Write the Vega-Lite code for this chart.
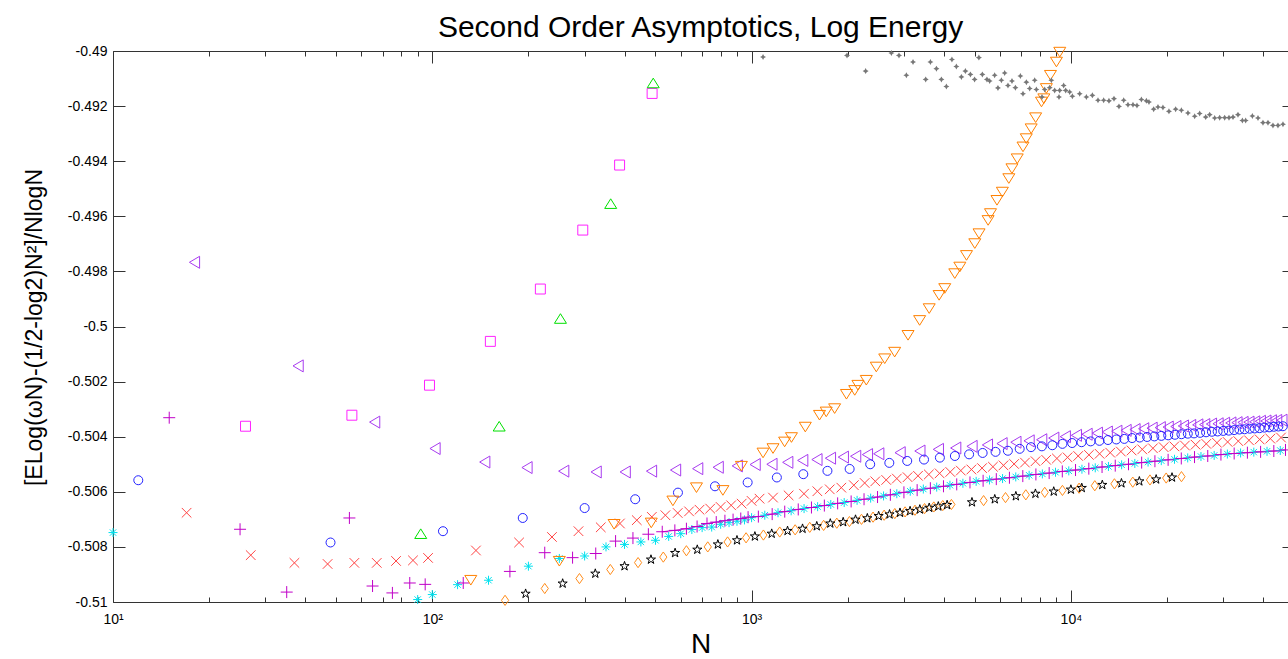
{
  "$schema": "https://vega.github.io/schema/vega-lite/v6.json",
  "width": 1175,
  "height": 551,
  "autosize": "none",
  "padding": {"left": 113, "top": 51, "right": 0, "bottom": 57},
  "background": "white",
  "title": {"text": "Second Order Asymptotics, Log Energy", "fontSize": 30, "font": "Liberation Sans", "fontWeight": "normal", "color": "#000", "baseline": "alphabetic", "offset": 14, "dy": 37, "anchor": "middle"},
  "config": {"view": {"stroke": null}, "axis": {"grid": false, "domainColor": "#333", "tickColor": "#333", "tickWidth": 1, "domainWidth": 1, "labelFont": "Liberation Sans", "labelFontSize": 14, "labelColor": "#000", "titleFont": "Liberation Sans", "titleFontWeight": "normal", "titleColor": "#000"}},
  "datasets": {
    "pts": [
      {"s":"vl","n":18,"v":-0.49767},{"s":"vl","n":38,"v":-0.50143},{"s":"vl","n":66,"v":-0.50347},{"s":"vl","n":102,"v":-0.50443},{"s":"vl","n":146,"v":-0.50492},{"s":"vl","n":198,"v":-0.50512},{"s":"vl","n":258,"v":-0.50525},{"s":"vl","n":326,"v":-0.50528},{"s":"vl","n":402,"v":-0.50528},{"s":"vl","n":486,"v":-0.50525},{"s":"vl","n":578,"v":-0.50521},{"s":"vl","n":678,"v":-0.50516},{"s":"vl","n":786,"v":-0.50511},{"s":"vl","n":902,"v":-0.50506},{"s":"vl","n":1026,"v":-0.50501},{"s":"vl","n":1158,"v":-0.505},{"s":"vl","n":1298,"v":-0.50493},{"s":"vl","n":1446,"v":-0.50486},{"s":"vl","n":1602,"v":-0.50483},{"s":"vl","n":1766,"v":-0.50478},{"s":"vl","n":1938,"v":-0.50474},{"s":"vl","n":2118,"v":-0.50471},{"s":"vl","n":2306,"v":-0.50465},
      {"s":"vl","n":2502,"v":-0.50462},{"s":"vl","n":2918,"v":-0.50458},{"s":"vl","n":3366,"v":-0.50452},{"s":"vl","n":3846,"v":-0.50446},{"s":"vl","n":4358,"v":-0.50441},{"s":"vl","n":4902,"v":-0.50435},{"s":"vl","n":5478,"v":-0.5043},{"s":"vl","n":6086,"v":-0.50425},{"s":"vl","n":6726,"v":-0.5042},{"s":"vl","n":7398,"v":-0.50415},{"s":"vl","n":8102,"v":-0.50411},{"s":"vl","n":8838,"v":-0.50405},{"s":"vl","n":9606,"v":-0.504},{"s":"vl","n":10406,"v":-0.50395},{"s":"vl","n":11238,"v":-0.50391},{"s":"vl","n":12102,"v":-0.50387},{"s":"vl","n":12998,"v":-0.50383},{"s":"vl","n":13926,"v":-0.5038},{"s":"vl","n":14886,"v":-0.50377},{"s":"vl","n":15878,"v":-0.50374},{"s":"vl","n":16902,"v":-0.50371},{"s":"vl","n":17958,"v":-0.50369},{"s":"vl","n":19046,"v":-0.50367},{"s":"vl","n":20166,"v":-0.50365},{"s":"vl","n":21318,"v":-0.50363},{"s":"vl","n":22502,"v":-0.50361},{"s":"vl","n":23718,"v":-0.50359},{"s":"vl","n":24966,"v":-0.50357},{"s":"vl","n":26246,"v":-0.50356},{"s":"vl","n":27558,"v":-0.50354},{"s":"vl","n":28902,"v":-0.50353},{"s":"vl","n":30278,"v":-0.50351},{"s":"vl","n":31686,"v":-0.5035},{"s":"vl","n":33126,"v":-0.50349},{"s":"vl","n":34598,"v":-0.50348},{"s":"vl","n":36102,"v":-0.50347},{"s":"vl","n":37638,"v":-0.50346},{"s":"vl","n":39206,"v":-0.50344},{"s":"vl","n":40806,"v":-0.50343},{"s":"vl","n":42438,"v":-0.50342},{"s":"vl","n":44102,"v":-0.50341},{"s":"vl","n":45798,"v":-0.5034},
      {"s":"b","n":12,"v":-0.50558},{"s":"b","n":48,"v":-0.50784},{"s":"b","n":108,"v":-0.50743},{"s":"b","n":192,"v":-0.50695},{"s":"b","n":300,"v":-0.50659},{"s":"b","n":432,"v":-0.50627},{"s":"b","n":588,"v":-0.50603},{"s":"b","n":768,"v":-0.5058},{"s":"b","n":972,"v":-0.50566},{"s":"b","n":1200,"v":-0.50548},{"s":"b","n":1452,"v":-0.50536},{"s":"b","n":1728,"v":-0.50524},{"s":"b","n":2028,"v":-0.50517},{"s":"b","n":2352,"v":-0.505},{"s":"b","n":2700,"v":-0.50495},{"s":"b","n":3072,"v":-0.50488},{"s":"b","n":3468,"v":-0.50483},{"s":"b","n":3888,"v":-0.50476},{"s":"b","n":4332,"v":-0.5047},{"s":"b","n":4800,"v":-0.50464},{"s":"b","n":5292,"v":-0.50459},{"s":"b","n":5808,"v":-0.50455},{"s":"b","n":6348,"v":-0.50451},{"s":"b","n":6912,"v":-0.50444},{"s":"b","n":7500,"v":-0.50438},{"s":"b","n":8112,"v":-0.50435},{"s":"b","n":8748,"v":-0.50431},{"s":"b","n":9408,"v":-0.50426},{"s":"b","n":10092,"v":-0.50423},{"s":"b","n":10800,"v":-0.5042},{"s":"b","n":11532,"v":-0.50417},{"s":"b","n":12288,"v":-0.50415},{"s":"b","n":13068,"v":-0.50412},{"s":"b","n":13872,"v":-0.5041},{"s":"b","n":14700,"v":-0.50408},{"s":"b","n":15552,"v":-0.50405},{"s":"b","n":16428,"v":-0.50403},{"s":"b","n":17328,"v":-0.50401},{"s":"b","n":18252,"v":-0.50399},{"s":"b","n":19200,"v":-0.50397},{"s":"b","n":20172,"v":-0.50395},{"s":"b","n":21168,"v":-0.50393},{"s":"b","n":22188,"v":-0.50391},{"s":"b","n":23232,"v":-0.50389},{"s":"b","n":24300,"v":-0.50388},{"s":"b","n":25392,"v":-0.50386},{"s":"b","n":26508,"v":-0.50384},{"s":"b","n":27648,"v":-0.50382},{"s":"b","n":28812,"v":-0.50381},{"s":"b","n":30000,"v":-0.50379},{"s":"b","n":31212,"v":-0.50378},{"s":"b","n":32448,"v":-0.50376},{"s":"b","n":33708,"v":-0.50374},{"s":"b","n":34992,"v":-0.50373},{"s":"b","n":36300,"v":-0.50371},{"s":"b","n":37632,"v":-0.5037},{"s":"b","n":38988,"v":-0.50369},{"s":"b","n":40368,"v":-0.50367},{"s":"b","n":41772,"v":-0.50366},{"s":"b","n":43200,"v":-0.50364},{"s":"b","n":44652,"v":-0.50363},{"s":"b","n":46128,"v":-0.50362},
      {"s":"r","n":17,"v":-0.50676},{"s":"r","n":27,"v":-0.5083},{"s":"r","n":37,"v":-0.50858},{"s":"r","n":47,"v":-0.50862},{"s":"r","n":57,"v":-0.50858},{"s":"r","n":67,"v":-0.50858},{"s":"r","n":77,"v":-0.50851},{"s":"r","n":87,"v":-0.50849},{"s":"r","n":97,"v":-0.5084},{"s":"r","n":137,"v":-0.50813},{"s":"r","n":187,"v":-0.50784},{"s":"r","n":237,"v":-0.50764},{"s":"r","n":287,"v":-0.50743},{"s":"r","n":337,"v":-0.50729},{"s":"r","n":387,"v":-0.50715},{"s":"r","n":437,"v":-0.50703},{"s":"r","n":487,"v":-0.50691},{"s":"r","n":537,"v":-0.50685},{"s":"r","n":587,"v":-0.50677},{"s":"r","n":637,"v":-0.50671},{"s":"r","n":687,"v":-0.50665},{"s":"r","n":742,"v":-0.50661},{"s":"r","n":800,"v":-0.50655},{"s":"r","n":863,"v":-0.50649},{"s":"r","n":931,"v":-0.50643},{"s":"r","n":1000,"v":-0.50633},{"s":"r","n":1059,"v":-0.50625},{"s":"r","n":1167,"v":-0.50621},{"s":"r","n":1306,"v":-0.50613},{"s":"r","n":1459,"v":-0.50607},{"s":"r","n":1607,"v":-0.50598},{"s":"r","n":1757,"v":-0.50591},{"s":"r","n":1910,"v":-0.50585},{"s":"r","n":2090,"v":-0.50576},{"s":"r","n":2260,"v":-0.50568},{"s":"r","n":2440,"v":-0.50562},{"s":"r","n":2640,"v":-0.50557},{"s":"r","n":2850,"v":-0.50552},{"s":"r","n":3080,"v":-0.50547},{"s":"r","n":3320,"v":-0.50542},{"s":"r","n":3590,"v":-0.50537},{"s":"r","n":3880,"v":-0.50533},{"s":"r","n":4190,"v":-0.50528},{"s":"r","n":4520,"v":-0.50523},{"s":"r","n":4880,"v":-0.50519},{"s":"r","n":5270,"v":-0.50514},{"s":"r","n":5700,"v":-0.50509},{"s":"r","n":6150,"v":-0.50504},{"s":"r","n":6640,"v":-0.50499},{"s":"r","n":7180,"v":-0.50494},{"s":"r","n":7750,"v":-0.50489},{"s":"r","n":8370,"v":-0.50484},{"s":"r","n":9040,"v":-0.50479},{"s":"r","n":9760,"v":-0.50475},{"s":"r","n":10540,"v":-0.5047},{"s":"r","n":11390,"v":-0.50466},{"s":"r","n":12300,"v":-0.50462},{"s":"r","n":13280,"v":-0.50458},{"s":"r","n":14340,"v":-0.50454},{"s":"r","n":15490,"v":-0.5045},{"s":"r","n":16730,"v":-0.50446},{"s":"r","n":18070,"v":-0.50442},{"s":"r","n":19520,"v":-0.50438},{"s":"r","n":21080,"v":-0.50435},{"s":"r","n":22760,"v":-0.50432},{"s":"r","n":24580,"v":-0.50429},{"s":"r","n":26550,"v":-0.50426},{"s":"r","n":28670,"v":-0.50422},{"s":"r","n":30970,"v":-0.50419},{"s":"r","n":33440,"v":-0.50416},{"s":"r","n":36120,"v":-0.50413},{"s":"r","n":39010,"v":-0.5041},{"s":"r","n":42130,"v":-0.50407},{"s":"r","n":45500,"v":-0.50403},
      {"s":"c","n":10,"v":-0.50748},{"s":"c","n":90,"v":-0.50991},{"s":"c","n":100,"v":-0.50973},{"s":"c","n":120,"v":-0.50937},{"s":"c","n":150,"v":-0.50921},{"s":"c","n":200,"v":-0.5087},{"s":"c","n":250,"v":-0.50842},{"s":"c","n":300,"v":-0.50833},{"s":"c","n":350,"v":-0.508},{"s":"c","n":400,"v":-0.50791},{"s":"c","n":450,"v":-0.50782},{"s":"c","n":500,"v":-0.50776},{"s":"c","n":550,"v":-0.50762},{"s":"c","n":600,"v":-0.50752},{"s":"c","n":650,"v":-0.50737},{"s":"c","n":700,"v":-0.5073},{"s":"c","n":750,"v":-0.50728},{"s":"c","n":800,"v":-0.50718},{"s":"c","n":850,"v":-0.50712},{"s":"c","n":900,"v":-0.50707},{"s":"c","n":950,"v":-0.50702},{"s":"c","n":1000,"v":-0.50694},{"s":"c","n":1100,"v":-0.50685},{"s":"c","n":1210,"v":-0.50676},{"s":"c","n":1330,"v":-0.50669},{"s":"c","n":1460,"v":-0.50661},{"s":"c","n":1610,"v":-0.50654},{"s":"c","n":1770,"v":-0.50646},{"s":"c","n":1950,"v":-0.50639},{"s":"c","n":2140,"v":-0.50631},{"s":"c","n":2360,"v":-0.50623},{"s":"c","n":2590,"v":-0.50615},{"s":"c","n":2850,"v":-0.50607},{"s":"c","n":3140,"v":-0.50598},{"s":"c","n":3450,"v":-0.5059},{"s":"c","n":3800,"v":-0.50583},{"s":"c","n":4180,"v":-0.50576},{"s":"c","n":4590,"v":-0.50569},{"s":"c","n":5050,"v":-0.50562},{"s":"c","n":5560,"v":-0.50557},{"s":"c","n":6110,"v":-0.50552},{"s":"c","n":6720,"v":-0.50546},{"s":"c","n":7400,"v":-0.5054},{"s":"c","n":8140,"v":-0.50535},{"s":"c","n":8950,"v":-0.50529},{"s":"c","n":9850,"v":-0.50524},{"s":"c","n":10830,"v":-0.50518},{"s":"c","n":11920,"v":-0.50513},{"s":"c","n":13110,"v":-0.50508},{"s":"c","n":14420,"v":-0.50502},{"s":"c","n":15860,"v":-0.50497},{"s":"c","n":17450,"v":-0.50492},{"s":"c","n":19190,"v":-0.50487},{"s":"c","n":21110,"v":-0.50482},{"s":"c","n":23220,"v":-0.50477},{"s":"c","n":25550,"v":-0.50472},{"s":"c","n":28100,"v":-0.50468},{"s":"c","n":30910,"v":-0.50463},{"s":"c","n":34000,"v":-0.50459},{"s":"c","n":37400,"v":-0.50456},{"s":"c","n":41140,"v":-0.50453},{"s":"c","n":45260,"v":-0.5045},
      {"s":"p","n":15,"v":-0.50331},{"s":"p","n":25,"v":-0.50736},{"s":"p","n":35,"v":-0.50964},{"s":"p","n":55,"v":-0.50695},{"s":"p","n":65,"v":-0.50942},{"s":"p","n":75,"v":-0.50967},{"s":"p","n":85,"v":-0.50931},{"s":"p","n":95,"v":-0.50936},{"s":"p","n":125,"v":-0.50931},{"s":"p","n":175,"v":-0.50889},{"s":"p","n":225,"v":-0.50821},{"s":"p","n":275,"v":-0.50839},{"s":"p","n":325,"v":-0.50824},{"s":"p","n":375,"v":-0.50779},{"s":"p","n":425,"v":-0.50768},{"s":"p","n":475,"v":-0.50754},{"s":"p","n":525,"v":-0.50745},{"s":"p","n":575,"v":-0.5074},{"s":"p","n":625,"v":-0.50734},{"s":"p","n":675,"v":-0.50726},{"s":"p","n":725,"v":-0.50715},{"s":"p","n":775,"v":-0.5071},{"s":"p","n":825,"v":-0.50705},{"s":"p","n":875,"v":-0.50701},{"s":"p","n":925,"v":-0.50697},{"s":"p","n":975,"v":-0.50692},{"s":"p","n":1050,"v":-0.5069},{"s":"p","n":1160,"v":-0.50681},{"s":"p","n":1270,"v":-0.50672},{"s":"p","n":1400,"v":-0.50664},{"s":"p","n":1540,"v":-0.50657},{"s":"p","n":1690,"v":-0.5065},{"s":"p","n":1860,"v":-0.50642},{"s":"p","n":2050,"v":-0.50635},{"s":"p","n":2250,"v":-0.50627},{"s":"p","n":2480,"v":-0.50619},{"s":"p","n":2720,"v":-0.50611},{"s":"p","n":3000,"v":-0.50602},{"s":"p","n":3300,"v":-0.50594},{"s":"p","n":3630,"v":-0.50587},{"s":"p","n":3990,"v":-0.5058},{"s":"p","n":4390,"v":-0.50573},{"s":"p","n":4830,"v":-0.50566},{"s":"p","n":5310,"v":-0.5056},{"s":"p","n":5840,"v":-0.50554},{"s":"p","n":6420,"v":-0.50549},{"s":"p","n":7070,"v":-0.50543},{"s":"p","n":7770,"v":-0.50537},{"s":"p","n":8550,"v":-0.50532},{"s":"p","n":9400,"v":-0.50526},{"s":"p","n":10340,"v":-0.50521},{"s":"p","n":11380,"v":-0.50516},{"s":"p","n":12520,"v":-0.5051},{"s":"p","n":13770,"v":-0.50505},{"s":"p","n":15150,"v":-0.505},{"s":"p","n":16660,"v":-0.50494},{"s":"p","n":18330,"v":-0.50489},{"s":"p","n":20160,"v":-0.50484},{"s":"p","n":22170,"v":-0.50479},{"s":"p","n":24390,"v":-0.50474},{"s":"p","n":26830,"v":-0.5047},{"s":"p","n":29510,"v":-0.50465},{"s":"p","n":32460,"v":-0.50461},{"s":"p","n":35710,"v":-0.50458},{"s":"p","n":39280,"v":-0.50455},{"s":"p","n":43210,"v":-0.50452},{"s":"p","n":47000,"v":-0.50448},
      {"s":"sq","n":26,"v":-0.50362},{"s":"sq","n":56,"v":-0.50322},{"s":"sq","n":98,"v":-0.50213},{"s":"sq","n":152,"v":-0.50054},{"s":"sq","n":218,"v":-0.49864},{"s":"sq","n":296,"v":-0.4965},{"s":"sq","n":386,"v":-0.49414},{"s":"sq","n":488,"v":-0.49154},
      {"s":"g","n":92,"v":-0.50752},{"s":"g","n":162,"v":-0.50362},{"s":"g","n":252,"v":-0.49971},{"s":"g","n":362,"v":-0.49554},{"s":"g","n":492,"v":-0.49116},
      {"s":"ov","n":132,"v":-0.50921},{"s":"ov","n":250,"v":-0.50852},{"s":"ov","n":371,"v":-0.50718},{"s":"ov","n":485,"v":-0.50713},{"s":"ov","n":567,"v":-0.50633},{"s":"ov","n":672,"v":-0.50585},{"s":"ov","n":813,"v":-0.50595},{"s":"ov","n":929,"v":-0.50507},{"s":"ov","n":1086,"v":-0.50459},{"s":"ov","n":1167,"v":-0.50443},{"s":"ov","n":1269,"v":-0.50419},{"s":"ov","n":1333,"v":-0.50403},{"s":"ov","n":1473,"v":-0.50365},{"s":"ov","n":1632,"v":-0.50322},{"s":"ov","n":1713,"v":-0.5031},{"s":"ov","n":1820,"v":-0.50298},{"s":"ov","n":1982,"v":-0.50246},{"s":"ov","n":2104,"v":-0.50232},{"s":"ov","n":2153,"v":-0.50213},{"s":"ov","n":2287,"v":-0.50195},{"s":"ov","n":2458,"v":-0.50147},{"s":"ov","n":2612,"v":-0.50117},{"s":"ov","n":2806,"v":-0.50093},{"s":"ov","n":3090,"v":-0.50032},{"s":"ov","n":3360,"v":-0.49978},{"s":"ov","n":3600,"v":-0.49935},{"s":"ov","n":3867,"v":-0.49887},{"s":"ov","n":4027,"v":-0.49862},{"s":"ov","n":4329,"v":-0.49808},{"s":"ov","n":4490,"v":-0.49784},{"s":"ov","n":4711,"v":-0.49742},{"s":"ov","n":5001,"v":-0.49699},{"s":"ov","n":5157,"v":-0.49663},{"s":"ov","n":5505,"v":-0.49615},{"s":"ov","n":5600,"v":-0.4959},{"s":"ov","n":5869,"v":-0.49542},{"s":"ov","n":6101,"v":-0.49512},{"s":"ov","n":6392,"v":-0.49463},{"s":"ov","n":6537,"v":-0.49427},{"s":"ov","n":6791,"v":-0.49391},{"s":"ov","n":7080,"v":-0.49348},{"s":"ov","n":7250,"v":-0.49318},{"s":"ov","n":7510,"v":-0.49282},{"s":"ov","n":7756,"v":-0.49242},{"s":"ov","n":8090,"v":-0.49185},{"s":"ov","n":8229,"v":-0.49173},{"s":"ov","n":8380,"v":-0.49136},{"s":"ov","n":8630,"v":-0.49088},{"s":"ov","n":9010,"v":-0.4904},{"s":"ov","n":9230,"v":-0.49004},
      {"s":"od","n":169,"v":-0.50994},{"s":"od","n":225,"v":-0.50951},{"s":"od","n":289,"v":-0.50915},{"s":"od","n":361,"v":-0.50882},{"s":"od","n":441,"v":-0.50857},{"s":"od","n":529,"v":-0.50837},{"s":"od","n":625,"v":-0.50814},{"s":"od","n":729,"v":-0.508},{"s":"od","n":841,"v":-0.50782},{"s":"od","n":961,"v":-0.50767},{"s":"od","n":1089,"v":-0.50757},{"s":"od","n":1225,"v":-0.50746},{"s":"od","n":1369,"v":-0.50738},{"s":"od","n":1521,"v":-0.50729},{"s":"od","n":1681,"v":-0.50722},{"s":"od","n":1849,"v":-0.50714},{"s":"od","n":2025,"v":-0.50708},{"s":"od","n":2209,"v":-0.507},{"s":"od","n":2401,"v":-0.50692},{"s":"od","n":2601,"v":-0.50685},{"s":"od","n":2809,"v":-0.50679},{"s":"od","n":3025,"v":-0.50673},{"s":"od","n":3249,"v":-0.50667},{"s":"od","n":3481,"v":-0.50661},{"s":"od","n":3721,"v":-0.50655},{"s":"od","n":3969,"v":-0.5065},{"s":"od","n":4225,"v":-0.50646},{"s":"od","n":5329,"v":-0.50632},{"s":"od","n":6241,"v":-0.50621},{"s":"od","n":7225,"v":-0.50611},{"s":"od","n":8281,"v":-0.50602},{"s":"od","n":9409,"v":-0.50595},{"s":"od","n":10609,"v":-0.50587},{"s":"od","n":11881,"v":-0.50578},{"s":"od","n":13689,"v":-0.50571},{"s":"od","n":15625,"v":-0.50565},{"s":"od","n":17689,"v":-0.50557},{"s":"od","n":19881,"v":-0.5055},{"s":"od","n":22201,"v":-0.50545},
      {"s":"k","n":196,"v":-0.5097},{"s":"k","n":256,"v":-0.50933},{"s":"k","n":324,"v":-0.50897},{"s":"k","n":400,"v":-0.5087},{"s":"k","n":484,"v":-0.50846},{"s":"k","n":576,"v":-0.50822},{"s":"k","n":676,"v":-0.5081},{"s":"k","n":784,"v":-0.50791},{"s":"k","n":900,"v":-0.50776},{"s":"k","n":1024,"v":-0.50762},{"s":"k","n":1156,"v":-0.50752},{"s":"k","n":1296,"v":-0.50742},{"s":"k","n":1444,"v":-0.50734},{"s":"k","n":1600,"v":-0.50725},{"s":"k","n":1764,"v":-0.50715},{"s":"k","n":1936,"v":-0.5071},{"s":"k","n":2116,"v":-0.50701},{"s":"k","n":2304,"v":-0.50696},{"s":"k","n":2500,"v":-0.50688},{"s":"k","n":2704,"v":-0.50682},{"s":"k","n":2916,"v":-0.50676},{"s":"k","n":3136,"v":-0.5067},{"s":"k","n":3364,"v":-0.50664},{"s":"k","n":3600,"v":-0.50658},{"s":"k","n":3844,"v":-0.50653},{"s":"k","n":4096,"v":-0.50648},{"s":"k","n":4900,"v":-0.50638},{"s":"k","n":5776,"v":-0.50627},{"s":"k","n":6724,"v":-0.50616},{"s":"k","n":7744,"v":-0.50607},{"s":"k","n":8836,"v":-0.50599},{"s":"k","n":10000,"v":-0.50592},{"s":"k","n":10816,"v":-0.50586},{"s":"k","n":12544,"v":-0.50575},{"s":"k","n":14400,"v":-0.50569},{"s":"k","n":16384,"v":-0.50562},{"s":"k","n":18496,"v":-0.50555},{"s":"k","n":20736,"v":-0.50548}
    ],
    "gray": [
      {"n":1086,"v":-0.49022},{"n":1990,"v":-0.49016},{"n":2276,"v":-0.49073},{"n":2740,"v":-0.49007},{"n":2895,"v":-0.49016},{"n":3053,"v":-0.49088},{"n":3203,"v":-0.4904},{"n":3510,"v":-0.49103},{"n":3631,"v":-0.4904},{"n":3792,"v":-0.49064},{"n":3930,"v":-0.49103},{"n":4074,"v":-0.49129},{"n":4241,"v":-0.49031},{"n":4378,"v":-0.49056},{"n":4540,"v":-0.49094},{"n":4673,"v":-0.49073},{"n":4845,"v":-0.49085},{"n":4994,"v":-0.49103},{"n":5151,"v":-0.49024},{"n":5281,"v":-0.49085},{"n":5459,"v":-0.49103},{"n":5567,"v":-0.49109},{"n":5771,"v":-0.49088},{"n":5910,"v":-0.49134},{"n":6058,"v":-0.49106},{"n":6203,"v":-0.4908},{"n":6353,"v":-0.49125},{"n":6539,"v":-0.49109},{"n":6702,"v":-0.49133},{"n":6947,"v":-0.49091},{"n":7079,"v":-0.49155},{"n":7254,"v":-0.49113},{"n":7430,"v":-0.49136},{"n":7703,"v":-0.49106},{"n":7797,"v":-0.4914},{"n":8119,"v":-0.49167},{"n":8279,"v":-0.4914},{"n":8582,"v":-0.49133},{"n":8687,"v":-0.49106},{"n":8897,"v":-0.49143},{"n":9178,"v":-0.49167},{"n":9224,"v":-0.49143},{"n":9493,"v":-0.49125},{"n":9632,"v":-0.49143},{"n":9913,"v":-0.49149},{"n":10108,"v":-0.49164},{"n":10656,"v":-0.49155},{"n":11181,"v":-0.49167},{"n":11676,"v":-0.49161},{"n":12159,"v":-0.49179},{"n":12667,"v":-0.49179},{"n":13160,"v":-0.49181},{"n":13646,"v":-0.49173},{"n":14145,"v":-0.49201},{"n":14635,"v":-0.49179},{"n":15094,"v":-0.49195},{"n":15649,"v":-0.49195},{"n":16106,"v":-0.49198},{"n":16626,"v":-0.49176},{"n":17234,"v":-0.49181},{"n":17562,"v":-0.49185},{"n":18167,"v":-0.49211},{"n":18740,"v":-0.49203},{"n":19424,"v":-0.49205},{"n":20283,"v":-0.49219},{"n":21287,"v":-0.49211},{"n":22183,"v":-0.49215},{"n":23262,"v":-0.49225},{"n":24418,"v":-0.49237},{"n":25315,"v":-0.49227},{"n":26435,"v":-0.4924},{"n":27207,"v":-0.49231},{"n":28208,"v":-0.49243},{"n":29242,"v":-0.49242},{"n":30317,"v":-0.49242},{"n":31274,"v":-0.49242},{"n":32190,"v":-0.4924},{"n":33368,"v":-0.49231},{"n":34445,"v":-0.49252},{"n":35270,"v":-0.49252},{"n":37017,"v":-0.49236},{"n":38548,"v":-0.49243},{"n":39958,"v":-0.4926},{"n":41428,"v":-0.4926},{"n":42942,"v":-0.4927},{"n":44522,"v":-0.4927},{"n":46156,"v":-0.49266}
    ]
  },
  "layer": [
    {
      "mark": {"type": "rule", "color": "#000", "strokeWidth": 1},
      "encoding": {"y": {"datum": -0.5, "type": "quantitative", "scale": {"domain": [-0.51, -0.49], "nice": false, "zero": false}, "axis": null}}
    },
    {
      "data": {"name": "pts"},
      "transform": [{"filter": "datum.s == 'p' && datum.n >= 500"}],
      "mark": {"type": "line", "color": "#c000c8", "strokeWidth": 1},
      "encoding": {
        "x": {"field": "n", "type": "quantitative", "scale": {"type": "log", "domain": [10, 47860], "nice": false}, "axis": null},
        "y": {"field": "v", "type": "quantitative", "scale": {"domain": [-0.51, -0.49], "nice": false, "zero": false}, "axis": null}
      }
    },
    {
      "data": {"name": "pts"},
      "mark": {"type": "point", "filled": false, "strokeWidth": 1, "size": 144, "opacity": 1},
      "encoding": {
        "x": {"field": "n", "type": "quantitative", "scale": {"type": "log", "domain": [10, 47860], "nice": false},
          "axis": {"orient": "bottom", "values": [10,20,30,40,50,60,70,80,90,100,200,300,400,500,600,700,800,900,1000,2000,3000,4000,5000,6000,7000,8000,9000,10000,20000,30000,40000],
            "labelExpr": "datum.value == 10 ? '10¹' : datum.value == 100 ? '10²' : datum.value == 1000 ? '10³' : datum.value == 10000 ? '10⁴' : ''",
            "tickSize": {"condition": {"test": "datum.value == 10 || datum.value == 100 || datum.value == 1000 || datum.value == 10000", "value": -12}, "value": -5},
            "labelPadding": 22, "labelBaseline": "top", "labelFlush": false, "labelOverlap": false,
            "title": "N", "titleFontSize": 28, "titleBaseline": "alphabetic", "titleY": 50}},
        "y": {"field": "v", "type": "quantitative", "scale": {"domain": [-0.51, -0.49], "nice": false, "zero": false},
          "axis": {"orient": "left", "values": [-0.51,-0.508,-0.506,-0.504,-0.502,-0.5,-0.498,-0.496,-0.494,-0.492,-0.49],
            "labelExpr": "'' + datum.value", "tickSize": -12, "labelPadding": 18, "labelFlush": false, "labelOverlap": false,
            "title": "[ELog(ωN)-(1/2-log2)N²]/NlogN", "titleFontSize": 23, "titleAngle": -90, "titleBaseline": "alphabetic", "titleAlign": "center", "titleX": -72, "titleY": 276}},
        "shape": {"field": "s", "type": "nominal", "legend": null,
          "scale": {"domain": ["vl","b","r","c","p","sq","g","ov","od","k"],
            "range": [
              "M-0.85,0L0.85,-1L0.85,1Z",
              "M0.75,0A0.75,0.75 0 1,1 -0.75,0A0.75,0.75 0 1,1 0.75,0Z",
              "M-0.8,-0.8L0.8,0.8M-0.8,0.8L0.8,-0.8",
              "M-0.75,0L0.75,0M0,-0.75L0,0.75M-0.53,-0.53L0.53,0.53M-0.53,0.53L0.53,-0.53",
              "M-1,0L1,0M0,-1L0,1",
              "M-0.83,-0.83L0.83,-0.83L0.83,0.83L-0.83,0.83Z",
              "M0,-0.8L1,0.8L-1,0.8Z",
              "M-1,-0.8L1,-0.8L0,0.8Z",
              "M0,-0.85L0.6,0L0,0.85L-0.6,0Z",
              "M0,-0.8L0.18,-0.247L0.761,-0.247L0.291,0.094L0.47,0.647L0,0.306L-0.47,0.647L-0.291,0.094L-0.761,-0.247L-0.18,-0.247Z"
            ]}},
        "color": {"field": "s", "type": "nominal", "legend": null,
          "scale": {"domain": ["vl","b","r","c","p","sq","g","ov","od","k"],
            "range": ["#a83cf0","#2424ff","#ff4444","#00e1ee","#c000c8","#ff22ff","#00e000","#ff8000","#ff8c1a","#000000"]}}
      }
    },
    {
      "data": {"name": "gray"},
      "mark": {"type": "point", "filled": true, "size": 36, "color": "#777777", "opacity": 1,
        "shape": "M0,-1L0.35,-0.35L1,0L0.35,0.35L0,1L-0.35,0.35L-1,0L-0.35,-0.35Z"},
      "encoding": {
        "x": {"field": "n", "type": "quantitative", "scale": {"type": "log", "domain": [10, 47860], "nice": false},
          "axis": {"orient": "top", "values": [10,20,30,40,50,60,70,80,90,100,200,300,400,500,600,700,800,900,1000,2000,3000,4000,5000,6000,7000,8000,9000,10000,20000,30000,40000],
            "labels": false, "title": null,
            "tickSize": {"condition": {"test": "datum.value == 10 || datum.value == 100 || datum.value == 1000 || datum.value == 10000", "value": -12}, "value": -5}}},
        "y": {"field": "v", "type": "quantitative", "scale": {"domain": [-0.51, -0.49], "nice": false, "zero": false},
          "axis": {"orient": "right", "values": [-0.51,-0.508,-0.506,-0.504,-0.502,-0.5,-0.498,-0.496,-0.494,-0.492,-0.49], "labels": false, "title": null, "tickSize": -6}}
      }
    }
  ],
  "resolve": {"axis": {"x": "independent", "y": "independent"}}
}
